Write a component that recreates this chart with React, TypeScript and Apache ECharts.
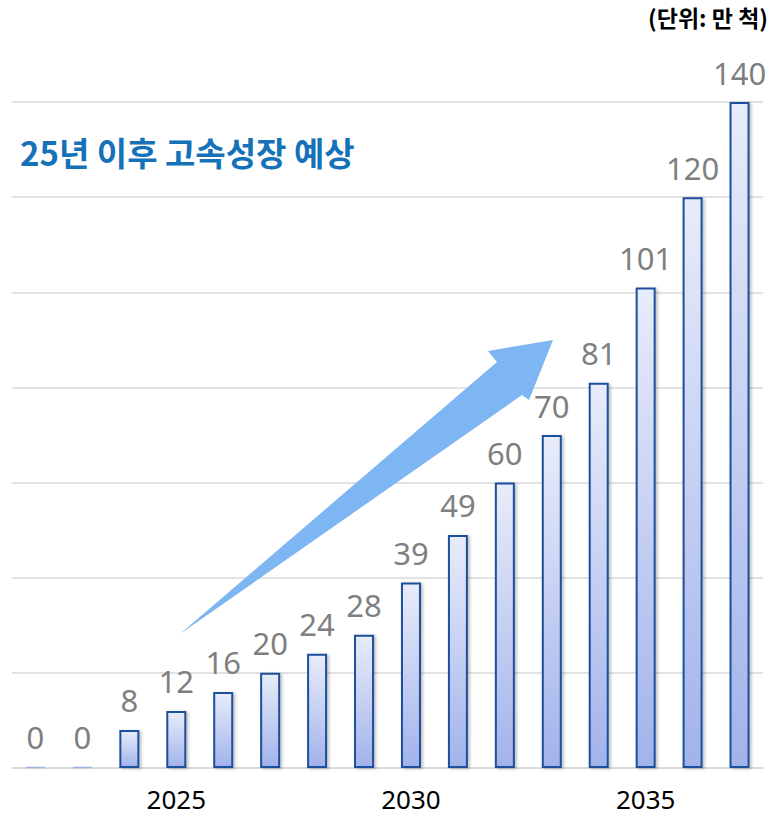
import React, { useEffect, useRef } from "react";
import * as echarts from "echarts";

const years = ["2022","2023","2024","2025","2026","2027","2028","2029","2030","2031","2032","2033","2034","2035","2036","2037"];
const values = [0, 0, 8, 12, 16, 20, 24, 28, 39, 49, 60, 70, 81, 101, 120, 140];
const shownYears = ["2025", "2030", "2035"];
const titleText = "25년 이후 고속성장 예상";
const unitText = "(단위: 만 척)";

export default function App() {
  const ref = useRef<HTMLDivElement>(null);
  useEffect(() => {
    document.body.style.margin = "0";
    const chart = echarts.init(ref.current!, null, { renderer: "svg" });
    chart.setOption({
      animation: false,
      grid: { left: 12, right: 13, top: 102, bottom: 52, containLabel: false },
      xAxis: {
        type: "category",
        data: years,
        axisLine: { show: true, lineStyle: { color: "#D9D9D9", width: 1.5 } },
        axisTick: { show: false },
        axisLabel: {
          interval: 0,
          formatter: (v: string) => (shownYears.includes(v) ? v : ""),
          color: "#000",
          fontSize: 26,
          lineHeight: 26,
          fontFamily: "Noto Sans, sans-serif",
          margin: 18,
        },
      },
      yAxis: {
        type: "value",
        min: 0,
        max: 140,
        interval: 20,
        axisLabel: { show: false },
        axisLine: { show: false },
        axisTick: { show: false },
        splitLine: { lineStyle: { color: "#D9D9D9", width: 1.5 } },
      },
      series: [
        {
          type: "bar",
          data: values.map((v) =>
            v === 0
              ? { value: v, itemStyle: { borderColor: "#9DB3DD", borderWidth: 1.5, shadowBlur: 0, shadowOffsetX: 0, shadowOffsetY: 0 } }
              : v
          ),
          barWidth: 20,
          barMinHeight: 1,
          itemStyle: {
            color: new echarts.graphic.LinearGradient(0, 0, 0, 1, [
              { offset: 0, color: "#E8ECFA" },
              { offset: 1, color: "#A2B3EB" },
            ]),
            borderColor: "#1C4F9C",
            borderWidth: 2,
            shadowColor: "rgba(0,0,0,0.25)",
            shadowBlur: 3,
            shadowOffsetX: 2,
            shadowOffsetY: 1,
          },
          label: {
            show: true,
            position: "top",
            distance: 14,
            color: "#7F7F7F",
            fontSize: 31,
            fontFamily: "Noto Sans, sans-serif",
          },
        },
      ],
      graphic: [
        {
          type: "polygon",
          shape: {
            points: [
              [180, 634],
              [497, 362],
              [488, 351],
              [553, 340],
              [529, 400],
              [522, 395],
            ],
          },
          style: { fill: "#7EB5F3" },
          z: 10,
        },
        {
          type: "text",
          left: 20,
          top: 135,
          style: {
            text: titleText,
            fill: "#1572B9",
            font: "bold 33px 'Noto Sans CJK KR', sans-serif",
          },
        },
        {
          type: "text",
          right: 8,
          top: 5,
          style: {
            text: unitText,
            fill: "#000",
            font: "bold 23px 'Noto Sans CJK KR', sans-serif",
          },
        },
      ],
    });
    return () => chart.dispose();
  }, []);
  return <div ref={ref} style={{ width: 776, height: 820 }} />;
}
